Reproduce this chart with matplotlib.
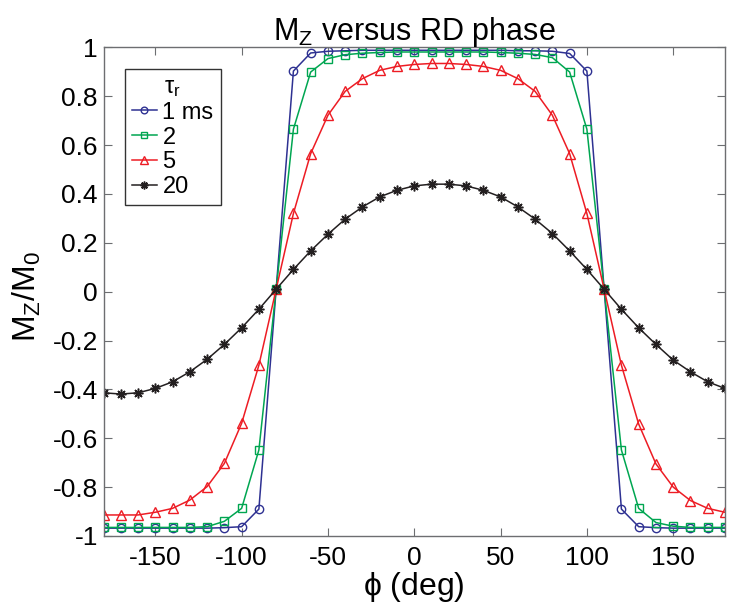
import matplotlib
matplotlib.use('Agg')
import matplotlib.pyplot as plt
import numpy as np

plt.rcParams['font.family'] = ['Liberation Sans', 'DejaVu Sans']
plt.rcParams['mathtext.fontset'] = 'custom'
plt.rcParams['mathtext.rm'] = 'Liberation Sans'
plt.rcParams['mathtext.it'] = 'Liberation Sans'
plt.rcParams['axes.unicode_minus'] = False

# phase from -180 to 180 in 10 deg steps (37 points)
phi = np.arange(-180, 181, 10)

mz_1ms = [-0.968, -0.968, -0.968, -0.968, -0.968, -0.968, -0.968, -0.966, -0.962, -0.89,
          0.01, 0.903, 0.977, 0.984, 0.986, 0.988, 0.988, 0.988, 0.988, 0.988,
          0.988, 0.988, 0.988, 0.988, 0.986, 0.986, 0.984, 0.975, 0.903, 0.01,
          -0.89, -0.962, -0.966, -0.968, -0.968, -0.968, -0.968]
mz_2ms = [-0.965, -0.965, -0.965, -0.965, -0.965, -0.965, -0.962, -0.94, -0.887, -0.648,
          0.01, 0.665, 0.899, 0.954, 0.970, 0.976, 0.979, 0.981, 0.981, 0.981,
          0.981, 0.981, 0.981, 0.979, 0.976, 0.971, 0.958, 0.899, 0.665, 0.01,
          -0.648, -0.887, -0.945, -0.96, -0.965, -0.965, -0.965]
mz_5ms = [-0.914, -0.914, -0.914, -0.903, -0.887, -0.853, -0.798, -0.703, -0.539, -0.301,
          0.01, 0.320, 0.565, 0.722, 0.820, 0.872, 0.906, 0.922, 0.930, 0.934,
          0.934, 0.930, 0.922, 0.906, 0.872, 0.820, 0.722, 0.565, 0.320, 0.01,
          -0.301, -0.542, -0.705, -0.80, -0.855, -0.887, -0.903]
mz_20ms = [-0.414, -0.419, -0.414, -0.396, -0.369, -0.328, -0.277, -0.216, -0.148, -0.072,
           0.01, 0.091, 0.167, 0.235, 0.297, 0.347, 0.388, 0.415, 0.433, 0.44,
           0.44, 0.433, 0.415, 0.388, 0.347, 0.297, 0.238, 0.167, 0.091, 0.01,
           -0.072, -0.148, -0.216, -0.28, -0.328, -0.369, -0.396]

labels = ['1 ms', '2', '5', '20']
xticks = [-150, -100, -50, 0, 50, 100, 150]
yticks = [-1, -0.8, -0.6, -0.4, -0.2, 0, 0.2, 0.4, 0.6, 0.8, 1]
ytick_labels = ['-1', '-0.8', '-0.6', '-0.4', '-0.2', '0', '0.2', '0.4', '0.6', '0.8', '1']

fig = plt.figure(figsize=(7.29, 6.15), dpi=100)
ax = fig.add_axes([0.142, 0.1285, 0.8525, 0.7945])

ax.plot(phi, mz_1ms, '-o', color='#2e3192', mfc='none', ms=6, lw=1.1, mew=1.0, label=labels[0])
ax.plot(phi, mz_2ms, '-s', color='#00a651', mfc='none', ms=5.5, lw=1.1, mew=1.0, label=labels[1])
ax.plot(phi, mz_5ms, '-^', color='#ed1c24', mfc='none', ms=7.5, lw=1.1, mew=1.0, label=labels[2])
ax.plot(phi, mz_20ms, '-', marker=(8, 2, 0), color='#231f20', ms=7, lw=1.1, mew=1.1, label=labels[3])

ax.set_xlim(-180, 180)
ax.set_ylim(-1, 1)
ax.set_xticks(xticks)
ax.set_yticks(yticks)
ax.set_yticklabels(ytick_labels)
ax.tick_params(direction='in', top=True, right=True, labelsize=19, length=6,
               color='#6d6e71')
ax.tick_params(axis='x', pad=7)
ax.tick_params(axis='y', pad=4)
for s in ax.spines.values():
    s.set_color('#6d6e71')
    s.set_linewidth(1.0)

ax.set_xlabel(r'$\mathregular{\phi}$ (deg)', fontsize=23, labelpad=0)
ax.set_ylabel(r'$\mathregular{M_Z/M_0}$', fontsize=23)
ax.yaxis.set_label_coords(-0.098, 0.49)
ax.set_title(r'$\mathregular{M_Z}$ versus RD phase', fontsize=22, pad=5)

leg = ax.legend(loc='upper left', bbox_to_anchor=(0.034, 0.956), fontsize=17,
                title=r'$\mathregular{\tau_r}$', title_fontsize=17, frameon=True,
                fancybox=False, edgecolor='black', handlelength=1.05,
                handletextpad=0.25, labelspacing=0.12, borderpad=0.3,
                borderaxespad=0.0, markerscale=0.8)
leg.get_frame().set_linewidth(1.0)

fig.savefig('out.png', dpi=100)
